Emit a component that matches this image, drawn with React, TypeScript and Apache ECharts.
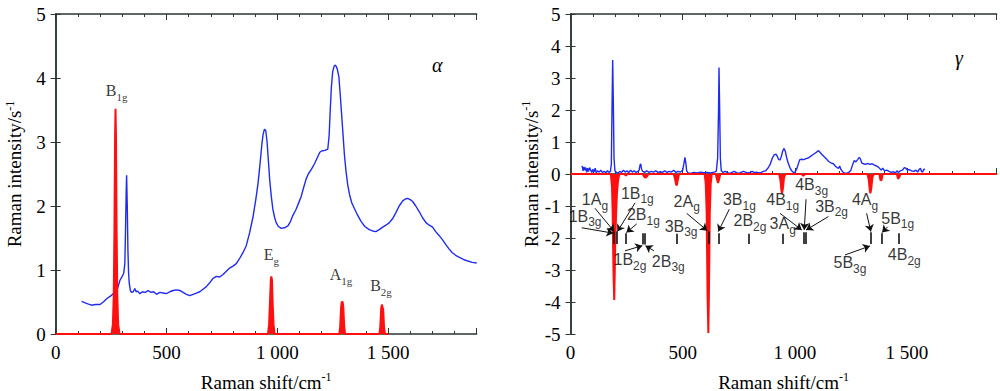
import React, { useEffect, useRef } from "react";
import * as echarts from "echarts";

// ---------- data ----------
const xTickLabels: Record<number, string> = { 0: "0", 500: "500", 1000: "1 000", 1500: "1 500" };

// α-phase: measured spectrum (blue)
const alphaMeasured: number[][] = [
  [117, 0.51], [130, 0.49], [145, 0.47], [162, 0.45], [180, 0.46], [200, 0.46], [215, 0.5], [230, 0.55],
  [250, 0.6], [267, 0.65], [280, 0.72], [290, 0.84], [300, 0.9], [307, 0.95], [312, 1.1], [315, 1.6],
  [318, 2.2], [320, 2.48], [323, 2.0], [326, 1.3], [329, 0.95], [332, 0.79], [337, 0.68], [342, 0.65],
  [350, 0.66], [357, 0.71], [363, 0.66], [370, 0.67], [380, 0.63], [392, 0.66], [405, 0.65], [417, 0.68],
  [430, 0.65], [442, 0.66], [455, 0.62], [470, 0.65], [485, 0.64], [500, 0.63], [515, 0.66], [530, 0.68],
  [545, 0.69], [560, 0.68], [575, 0.65], [590, 0.62], [605, 0.6], [620, 0.62], [635, 0.64], [650, 0.66],
  [665, 0.7], [680, 0.74], [695, 0.8], [710, 0.87], [725, 0.9], [740, 0.89], [755, 0.93], [770, 0.98],
  [785, 1.03], [800, 1.06], [815, 1.1], [830, 1.18], [845, 1.27], [860, 1.38], [875, 1.58], [890, 1.82],
  [903, 2.1], [913, 2.35], [922, 2.65], [930, 2.95], [936, 3.12], [942, 3.2], [948, 3.18], [954, 3.0],
  [960, 2.7], [966, 2.4], [973, 2.15], [980, 1.95], [988, 1.82], [995, 1.74], [1005, 1.68], [1018, 1.65],
  [1032, 1.66], [1048, 1.69], [1060, 1.76], [1070, 1.85], [1085, 1.95], [1100, 2.08], [1108, 2.15],
  [1120, 2.3], [1130, 2.42], [1140, 2.5], [1155, 2.58], [1168, 2.66], [1180, 2.75], [1192, 2.84],
  [1200, 2.86], [1215, 2.87], [1228, 2.89], [1234, 3.1], [1239, 3.5], [1244, 3.85], [1250, 4.1],
  [1257, 4.19], [1263, 4.2], [1270, 4.15], [1278, 4.02], [1285, 3.7], [1291, 3.4], [1296, 3.15],
  [1303, 2.8], [1310, 2.55], [1318, 2.33], [1326, 2.18], [1336, 2.05], [1348, 1.96], [1362, 1.86],
  [1378, 1.76], [1395, 1.68], [1415, 1.63], [1430, 1.61], [1445, 1.6], [1460, 1.63], [1476, 1.67],
  [1490, 1.7], [1506, 1.74], [1520, 1.8], [1536, 1.9], [1550, 2.0], [1566, 2.08], [1578, 2.11],
  [1588, 2.12], [1600, 2.1], [1611, 2.07], [1625, 2.0], [1641, 1.91], [1655, 1.82], [1671, 1.74],
  [1686, 1.7], [1701, 1.67], [1715, 1.6], [1730, 1.54], [1746, 1.47], [1760, 1.4], [1775, 1.33],
  [1790, 1.27], [1805, 1.23], [1820, 1.2], [1844, 1.16], [1860, 1.14], [1880, 1.12], [1900, 1.11],
];

// α-phase: calculated modes (red)
const alphaCalculated: number[][] = [
  [0, 0], [252, 0], [258, 0.15], [262, 0.6], [265, 1.6], [268, 3.1], [270, 3.52], [272, 3.1], [275, 1.6],
  [278, 0.6], [282, 0.15], [288, 0], [958, 0], [963, 0.15], [967, 0.5], [971, 0.85], [973, 0.9],
  [976, 0.85], [979, 0.5], [983, 0.15], [988, 0], [1280, 0], [1284, 0.12], [1288, 0.42], [1291, 0.5],
  [1295, 0.5], [1298, 0.42], [1302, 0.12], [1306, 0], [1461, 0], [1465, 0.12], [1469, 0.4], [1472, 0.46],
  [1475, 0.46], [1478, 0.38], [1482, 0.1], [1486, 0], [1500, 0],
];

// α-phase mode labels: [x, y, main, subscript]
const alphaLabels: [number, number, string, string][] = [
  [275, 3.77, "B", "1g"],
  [973, 1.21, "E", "g"],
  [1288, 0.9, "A", "1g"],
  [1468, 0.72, "B", "2g"],
];

// γ-phase: measured spectrum (blue)
const gammaMeasured: number[][] = [
  [50, 0.25], [53, 0.22], [56, 0.1], [60, 0.22], [64, 0.12], [68, 0.2], [72, 0.05], [76, 0.18], [80, 0.08],
  [85, 0.2], [90, 0.12], [95, 0.05], [100, 0.15], [105, 0.06], [110, 0.18], [115, 0.04], [120, 0.1],
  [128, 0.06], [135, 0.12], [142, 0.05], [150, 0.08], [158, 0.04], [165, 0.1], [172, 0.05], [178, 0.08],
  [182, 0.3], [185, 2.0], [188, 3.56], [191, 2.2], [194, 0.5], [198, 0.1], [205, 0.05], [212, 0.03],
  [220, 0.08], [228, 0.05], [236, 0.12], [244, 0.06], [252, 0.1], [260, 0.04], [268, 0.12], [276, 0.06],
  [284, 0.1], [292, 0.05], [300, 0.08], [306, 0.12], [310, 0.28], [313, 0.32], [317, 0.15], [322, 0.08],
  [330, 0.05], [340, 0.1], [350, 0.05], [360, 0.08], [370, 0.06], [380, 0.1], [390, 0.05], [400, 0.07],
  [410, 0.05], [420, 0.1], [430, 0.05], [440, 0.08], [450, 0.06], [460, 0.12], [470, 0.05], [480, 0.08],
  [490, 0.06], [500, 0.12], [505, 0.3], [510, 0.52], [514, 0.35], [518, 0.1], [525, 0.03], [535, 0.02],
  [550, 0.05], [565, 0.03], [580, 0.06], [595, 0.04], [610, 0.05], [625, 0.03], [640, 0.06], [650, 0.08],
  [656, 0.5], [660, 2.0], [662, 3.33], [665, 2.0], [668, 0.5], [672, 0.1], [680, 0.05], [690, 0.08],
  [700, 0.04], [710, 0.02], [720, 0.05], [730, 0.08], [740, 0.04], [750, 0.02], [760, 0.05], [770, 0.08],
  [780, 0.06], [790, 0.03], [800, 0.05], [810, 0.08], [820, 0.04], [830, 0.06], [840, 0.03], [850, 0.05],
  [860, 0.08], [870, 0.1], [880, 0.18], [890, 0.3], [900, 0.5], [908, 0.6], [916, 0.62], [922, 0.55],
  [928, 0.45], [934, 0.44], [940, 0.55], [946, 0.72], [952, 0.8], [958, 0.7], [964, 0.5], [970, 0.35],
  [978, 0.2], [986, 0.1], [994, 0.05], [1001, 0.06], [1008, 0.15], [1015, 0.3], [1022, 0.45], [1030, 0.46],
  [1040, 0.45], [1050, 0.48], [1060, 0.5], [1070, 0.55], [1080, 0.6], [1090, 0.65], [1100, 0.7],
  [1106, 0.73], [1112, 0.68], [1120, 0.62], [1130, 0.55], [1140, 0.48], [1150, 0.4], [1160, 0.35],
  [1172, 0.32], [1180, 0.25], [1188, 0.2], [1195, 0.18], [1200, 0.25], [1205, 0.15], [1212, 0.08],
  [1220, 0.03], [1231, 0.02], [1240, 0.05], [1250, 0.12], [1258, 0.3], [1265, 0.42], [1272, 0.38],
  [1280, 0.45], [1287, 0.52], [1292, 0.48], [1298, 0.35], [1306, 0.32], [1315, 0.3], [1325, 0.33],
  [1335, 0.3], [1345, 0.32], [1355, 0.28], [1365, 0.25], [1375, 0.2], [1385, 0.12], [1392, 0.18],
  [1400, 0.1], [1410, 0.12], [1420, 0.08], [1430, 0.05], [1440, 0.07], [1448, 0.03], [1455, 0.1],
  [1462, 0.05], [1470, 0.1], [1480, 0.12], [1488, 0.2], [1495, 0.18], [1502, 0.12], [1510, 0.14],
  [1520, 0.1], [1530, 0.08], [1540, 0.12], [1548, 0.06], [1555, 0.15], [1560, 0.18], [1565, 0.08],
  [1570, 0.06], [1575, 0.15], [1580, 0.14],
];

// γ-phase: calculated modes (red, drawn downward)
const gammaCalculated: number[][] = [
  [0, 0], [180, 0], [185, -0.4], [188, -1.2], [190, -2.3], [192, -3.2], [195, -3.94], [197, -3.2],
  [199, -2.3], [203, -1.3], [207, -0.6], [212, -0.2], [218, 0], [240, 0], [247, -0.05], [254, 0],
  [322, 0], [328, -0.08], [334, -0.12], [340, -0.08], [348, 0], [460, 0], [466, -0.15], [471, -0.33],
  [474, -0.35], [478, -0.2], [484, 0], [598, 0], [603, -0.3], [607, -1.2], [609, -2.5], [611, -3.8],
  [614.5, -4.97], [617, -3.8], [619, -2.5], [621, -1.2], [625, -0.3], [630, 0], [648, 0], [652, -0.15],
  [658, -0.28], [663, -0.15], [668, 0], [930, 0], [936, -0.2], [940, -0.5], [943, -0.6], [947, -0.45],
  [952, -0.1], [958, 0], [1030, 0], [1038, -0.06], [1046, 0], [1324, 0], [1330, -0.2], [1334, -0.5],
  [1337, -0.6], [1341, -0.45], [1346, -0.1], [1352, 0], [1377, 0], [1382, -0.2], [1387, -0.18],
  [1392, 0], [1455, 0], [1460, -0.15], [1466, -0.1], [1471, 0], [1900, 0],
];

// γ-phase mode markers: [x, yTop, yBottom]
const gammaMarkers: [number, number, number][] = [
  [195, -1.8, -2.19], [206, -1.8, -2.19], [246, -1.85, -2.19], [322, -1.85, -2.2], [332, -1.85, -2.2],
  [473, -1.87, -2.19], [614.5, -1.8, -2.19], [659, -1.85, -2.19], [793, -1.87, -2.19], [946, -1.87, -2.19],
  [1038, -1.82, -2.19], [1047, -1.82, -2.19], [1340, -1.82, -2.19], [1387, -1.85, -2.19], [1462, -1.85, -2.19],
];

// γ-phase arrows: [x1, y1, x2, y2] (head at x2,y2)
const gammaArrows: [number, number, number, number][] = [
  [50, -1.68, 191, -1.85], [109, -1.07, 195, -1.8], [288, -0.9, 209, -1.8], [295, -1.56, 249, -1.83],
  [243, -2.4, 320, -2.24], [372, -2.4, 334, -2.24], [518, -1.23, 610, -1.77], [708, -1.1, 659, -1.8],
  [934, -1.23, 1031, -1.75], [1050, -0.79, 1042, -1.75], [1150, -1.33, 1050, -1.75],
  [1320, -1.23, 1339, -1.8], [1414, -1.65, 1389, -1.83], [1224, -2.53, 1335, -2.25],
];

// γ-phase mode labels: [x, y, main, subscript]
const gammaLabels: [number, number, string, string][] = [
  [109, -0.87, "1A", "g"], [65, -1.385, "1B", "3g"], [298, -0.66, "1B", "1g"], [325, -1.33, "2B", "1g"],
  [265, -2.74, "1B", "2g"], [436, -2.79, "2B", "3g"], [518, -0.92, "2A", "g"], [493, -1.7, "3B", "3g"],
  [753, -0.87, "3B", "1g"], [800, -1.52, "2B", "2g"], [946, -0.87, "4B", "1g"], [1075, -0.4, "4B", "3g"],
  [1164, -1.07, "3B", "2g"], [946, -1.61, "3A", "g"], [1313, -0.87, "4A", "g"], [1459, -1.44, "5B", "1g"],
  [1246, -2.84, "5B", "3g"], [1488, -2.58, "4B", "2g"],
];

// ---------- styling ----------
const SERIF = "Liberation Serif, serif";
const SANS = "Liberation Sans, sans-serif";
const AXIS = "#2c3636";
const BLUE = "#1f2bf0";
const RED = "#ff1010";
const INK = "#000";

function xAxesFor(gridIndex: number): any[] {
  const base = { type: "value", gridIndex, min: 0, max: 1900, splitLine: { show: false } };
  return [
    {
      ...base, position: "bottom", interval: 100,
      axisLine: { show: true, lineStyle: { color: AXIS, width: 1.5 } },
      axisTick: { show: true, inside: true, length: 3, lineStyle: { color: AXIS } },
      axisLabel: {
        show: true, margin: 9, color: INK, fontFamily: SERIF, fontSize: 19,
        formatter: (v: number) => (xTickLabels[v] !== undefined ? xTickLabels[v] : ""),
      },
      name: "{a|Raman shift/cm}{s|-1}", nameLocation: "middle", nameGap: 37,
      nameTextStyle: {
        rich: {
          a: { fontFamily: SERIF, fontSize: 19, color: INK, lineHeight: 22 },
          s: { fontFamily: SERIF, fontSize: 12, color: INK, verticalAlign: "top", lineHeight: 22 },
        },
      },
    },
    {
      ...base, position: "bottom", interval: 500,
      axisLine: { show: false },
      axisTick: { show: true, inside: true, length: 6, lineStyle: { color: AXIS } },
      axisLabel: { show: false },
    },
    {
      ...base, position: "top", interval: 100,
      axisLine: { show: true, lineStyle: { color: AXIS, width: 1.5 } },
      axisTick: { show: true, inside: true, length: 3, lineStyle: { color: AXIS } },
      axisLabel: { show: false },
    },
    {
      ...base, position: "top", interval: 500,
      axisLine: { show: false },
      axisTick: { show: true, inside: true, length: 6, lineStyle: { color: AXIS } },
      axisLabel: { show: false },
    },
  ];
}

function yAxesFor(gridIndex: number, min: number, max: number, gap: number): any[] {
  const base = { type: "value", gridIndex, min, max, interval: 1, splitLine: { show: false } };
  return [
    {
      ...base, position: "left",
      axisLine: { show: true, lineStyle: { color: AXIS, width: 1.5 } },
      axisTick: { show: true, inside: true, length: 5, lineStyle: { color: AXIS } },
      axisLabel: { show: true, margin: 10, color: INK, fontFamily: SERIF, fontSize: 19 },
      name: "{a|Raman intensity/s}{s|-1}", nameLocation: "middle", nameGap: gap, nameRotate: 90,
      nameTextStyle: {
        rich: {
          a: { fontFamily: SERIF, fontSize: 19, color: INK, lineHeight: 22 },
          s: { fontFamily: SERIF, fontSize: 12, color: INK, verticalAlign: "top", lineHeight: 22 },
        },
      },
    },
    {
      ...base, position: "right",
      axisLine: { show: true, lineStyle: { color: AXIS, width: 1.5 } },
      axisTick: { show: true, inside: true, length: 5, lineStyle: { color: AXIS } },
      axisLabel: { show: false },
    },
  ];
}

function labelSeries(xi: number, yi: number, items: [number, number, string, string][], font: string, size: number, subSize: number) {
  return {
    type: "scatter", xAxisIndex: xi, yAxisIndex: yi, silent: true, z: 6,
    symbolSize: 0.1, itemStyle: { color: "rgba(0,0,0,0)" },
    data: items.map(([x, y, m, s]) => ({
      value: [x, y],
      label: { formatter: `{m|${m}}{s|${s}}` },
    })),
    label: {
      show: true, position: "inside", color: INK,
      rich: {
        m: { fontFamily: font, fontSize: size, color: INK, lineHeight: size + 4, verticalAlign: "top" },
        s: { fontFamily: font, fontSize: subSize, color: INK, lineHeight: size + 4, verticalAlign: "bottom", padding: [6, 0, 0, 0] },
      },
    },
  };
}

export default function App() {
  const ref = useRef<HTMLDivElement>(null);
  useEffect(() => {
    if (!ref.current) return;
    const chart = echarts.init(ref.current, undefined, { renderer: "svg" });
    const xAxis = [...xAxesFor(0), ...xAxesFor(1)];
    const yAxis = [...yAxesFor(0, 0, 5, 30), ...yAxesFor(1, -5, 5, 25)];
    chart.setOption({
      animation: false,
      backgroundColor: "#fff",
      textStyle: { fontFamily: SERIF },
      grid: [
        { left: 55.7, top: 14, width: 421, height: 320, outerBoundsMode: "none", containLabel: false },
        { left: 570.5, top: 14, width: 426.2, height: 320, outerBoundsMode: "none", containLabel: false },
      ],
      xAxis,
      yAxis,
      graphic: [
        { type: "text", left: 432, top: 55, style: { text: "α", fontFamily: SERIF, fontStyle: "italic", fontSize: 20, fill: INK } },
        { type: "text", left: 955, top: 48, style: { text: "γ", fontFamily: SERIF, fontStyle: "italic", fontSize: 20, fill: INK } },
      ],
      series: [
        {
          type: "line", xAxisIndex: 0, yAxisIndex: 0, data: alphaMeasured, showSymbol: false, symbol: "none",
          lineStyle: { color: BLUE, width: 1.4 }, z: 3, silent: true,
        },
        {
          type: "line", xAxisIndex: 0, yAxisIndex: 0, data: alphaCalculated, showSymbol: false, symbol: "none",
          lineStyle: { color: RED, width: 2 }, areaStyle: { color: RED, opacity: 1 }, z: 4, silent: true,
        },
        labelSeries(0, 0, alphaLabels, SERIF, 16, 11),
        {
          type: "line", xAxisIndex: 4, yAxisIndex: 2, data: gammaMeasured, showSymbol: false, symbol: "none",
          lineStyle: { color: BLUE, width: 1.4 }, z: 3, silent: true,
        },
        {
          type: "line", xAxisIndex: 4, yAxisIndex: 2, data: gammaCalculated, showSymbol: false, symbol: "none",
          lineStyle: { color: RED, width: 2 }, areaStyle: { color: RED, opacity: 1 }, z: 4, silent: true,
        },
        {
          type: "lines", coordinateSystem: "cartesian2d", xAxisIndex: 4, yAxisIndex: 2, silent: true, z: 5,
          symbol: ["none", "none"],
          lineStyle: { color: "#111", width: 1.6, opacity: 1 },
          data: gammaMarkers.map(([x, a, b]) => ({ coords: [[x, a], [x, b]] })),
        },
        {
          type: "lines", coordinateSystem: "cartesian2d", xAxisIndex: 4, yAxisIndex: 2, silent: true, z: 5,
          symbol: ["none", "arrow"], symbolSize: 7,
          lineStyle: { color: "#111", width: 1, opacity: 1 },
          data: gammaArrows.map(([x1, y1, x2, y2]) => ({ coords: [[x1, y1], [x2, y2]] })),
        },
        labelSeries(4, 2, gammaLabels, SANS, 16, 12),
      ],
    });
    return () => chart.dispose();
  }, []);
  return <div ref={ref} style={{ position: "absolute", left: 0, top: 0, width: 1000, height: 391 }} />;
}
